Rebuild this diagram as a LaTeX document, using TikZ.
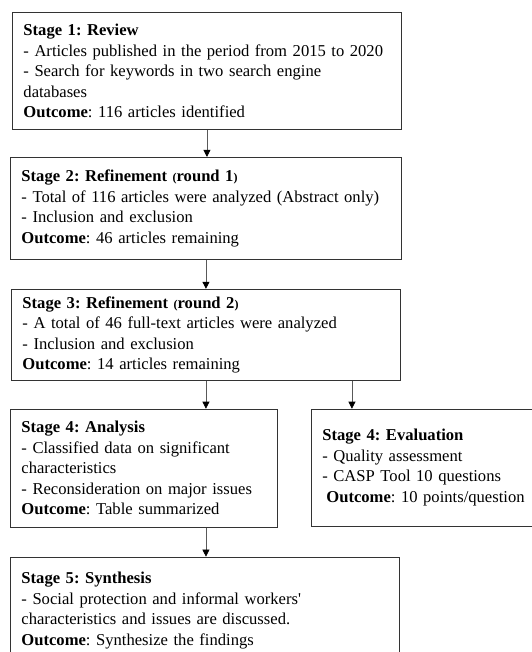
\documentclass[tikz,border=0pt]{standalone}
\usepackage{fontspec}
\setmainfont{Liberation Serif}[Ligatures=TeXOff]
\usepackage{tikz}
\usetikzlibrary{arrows.meta, positioning}

\newcommand{\rnd}[1]{{\fontsize{12pt}{12pt}\selectfont(}#1{\fontsize{12pt}{12pt}\selectfont)}}
\frenchspacing

\begin{document}
\begin{tikzpicture}[
  x=1pt, y=1pt,
  every node/.style={font=\fontsize{16.6pt}{20.5pt}\selectfont},
  stagebox/.style={draw=black!80, line width=0.9pt, align=left,
    inner xsep=11pt, inner ysep=0pt, anchor=north west},
  arrow/.style={-{Triangle[width=7pt,length=7pt,color=black]}, draw=black!65, line width=0.6pt}
]
\useasboundingbox (0,0) rectangle (531,-652);

\node[stagebox, text width=367pt, minimum height=117pt] (s1) at (12,-12)
  {\textbf{Stage 1: Review}\\
   - Articles published in the period from 2015 to 2020\\
   - Search for keywords in two search engine\\
   databases\\
   \textbf{Outcome}: 116 articles identified};
\node[stagebox, text width=369pt, minimum height=102pt, below=27pt of s1.south west, anchor=north west, xshift=-2pt] (s2)
  {\textbf{Stage 2: Refinement \rnd{round 1}}\\
   - Total of 116 articles were analyzed (Abstract only)\\
   - Inclusion and exclusion\\
   \textbf{Outcome}: 46 articles remaining};
\node[stagebox, text width=367pt, minimum height=91pt, below=29pt of s2.south west, anchor=north west, xshift=1pt] (s3)
  {\textbf{Stage 3: Refinement \rnd{round 2}}\\
   - A total of 46 full-text articles were analyzed\\
   - Inclusion and exclusion\\
   \textbf{Outcome}: 14 articles remaining};
\node[stagebox, text width=245pt, minimum height=118pt, below=28pt of s3.south west, anchor=north west, xshift=-1pt] (s4a)
  {\textbf{Stage 4: Analysis}\\
   - Classified data on significant\\
   characteristics\\
   - Reconsideration on major issues\\
   \textbf{Outcome}: Table summarized};
\node[stagebox, text width=218pt, minimum height=117pt, right=33pt of s4a.north east, anchor=north west] (s4b)
  {\textbf{Stage 4: Evaluation}\\
   - Quality assessment\\
   - CASP Tool 10 questions\\
   \hspace*{4pt}\textbf{Outcome}: 10 points/question};
\node[stagebox, text width=367pt, minimum height=107pt, below=29pt of s4a.south west, anchor=north west] (s5)
  {\textbf{Stage 5: Synthesis}\\
   - Social protection and informal workers'\\
   characteristics and issues are discussed.\\
   \textbf{Outcome}: Synthesize the findings};

\draw[arrow] (s1.south) -- (s1.south |- s2.north);
\draw[arrow] (s2.south) -- (s2.south |- s3.north);
\draw[arrow] (s3.south) -- (s3.south |- s4a.north);
\draw[arrow] ([xshift=146pt]s3.south) -- ([xshift=146pt]s3.south |- s4b.north);
\draw[arrow] (s3.south |- s4a.south) -- (s3.south |- s5.north);

\end{tikzpicture}
\end{document}
